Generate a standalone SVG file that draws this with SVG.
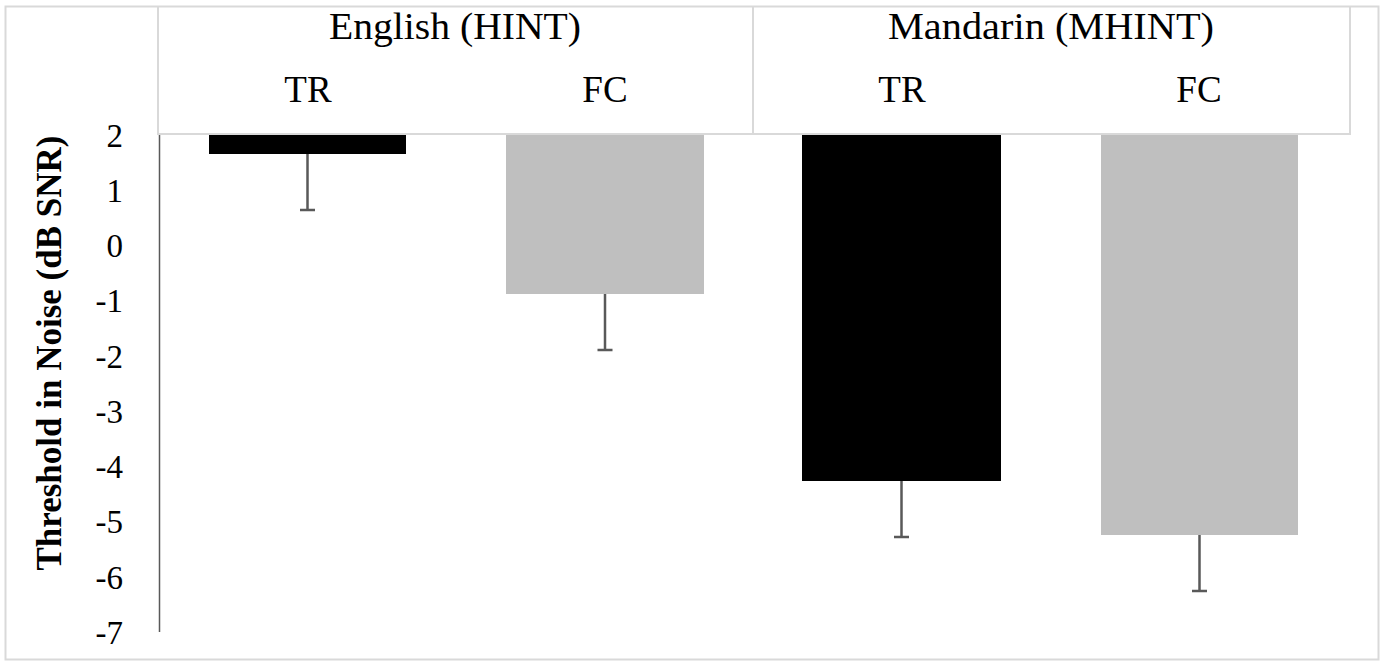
<svg xmlns="http://www.w3.org/2000/svg" width="1383" height="662" viewBox="0 0 1383 662">
<style>
.t{font-family:"Liberation Serif","Times New Roman",serif;fill:#000}
.hd{font-size:37px;text-anchor:middle}
.tk{font-size:33px;text-anchor:end}
.ax{font-size:35px;font-weight:bold;text-anchor:middle}
.frame{fill:none;stroke:#d9d9d9;stroke-width:2}
.err{stroke:#595959;stroke-width:2.5;fill:none}
.blk{fill:#000}
.gry{fill:#bfbfbf}
</style>
<rect width="1383" height="662" fill="#fff"/>
<rect class="frame" x="5.5" y="6.5" width="1373" height="653"/>
<g id="header">
<path class="frame" d="M158 7V134H1350V7M753 7V134"/>
<text class="t hd" x="455" y="39" textLength="252" lengthAdjust="spacingAndGlyphs">English (HINT)</text>
<text class="t hd" x="1051" y="39" textLength="326" lengthAdjust="spacingAndGlyphs">Mandarin (MHINT)</text>
<text class="t hd" x="308" y="102">TR</text>
<text class="t hd" x="605" y="102">FC</text>
<text class="t hd" x="902" y="102">TR</text>
<text class="t hd" x="1199" y="102">FC</text>
</g>
<g id="axis">
<line x1="159.5" y1="135" x2="159.5" y2="632" stroke="#595959" stroke-width="1.5"/>
<text class="t tk" x="123" y="147">2</text>
<text class="t tk" x="123" y="202">1</text>
<text class="t tk" x="123" y="257">0</text>
<text class="t tk" x="123" y="312">-1</text>
<text class="t tk" x="123" y="368">-2</text>
<text class="t tk" x="123" y="423">-3</text>
<text class="t tk" x="123" y="478">-4</text>
<text class="t tk" x="123" y="533">-5</text>
<text class="t tk" x="123" y="589">-6</text>
<text class="t tk" x="123" y="644">-7</text>
<text class="t ax" transform="translate(61,353) rotate(-90)">Threshold in Noise (dB SNR)</text>
</g>
<g id="bar-eng-tr"><rect class="blk" x="209" y="135" width="197" height="19"/></g>
<g id="bar-eng-fc"><rect class="gry" x="506" y="135" width="198" height="159"/></g>
<g id="bar-man-tr"><rect class="blk" x="802" y="135" width="199" height="346"/></g>
<g id="bar-man-fc"><rect class="gry" x="1101" y="135" width="197" height="400"/></g>
<g id="errorbars">
<path class="err" d="M307.5 154V210M300 210H315"/>
<path class="err" d="M605 294V350M597.5 350H612.5"/>
<path class="err" d="M901.5 481V537M894 537H909"/>
<path class="err" d="M1199.5 535V591M1192 591H1207"/>
</g>
</svg>
